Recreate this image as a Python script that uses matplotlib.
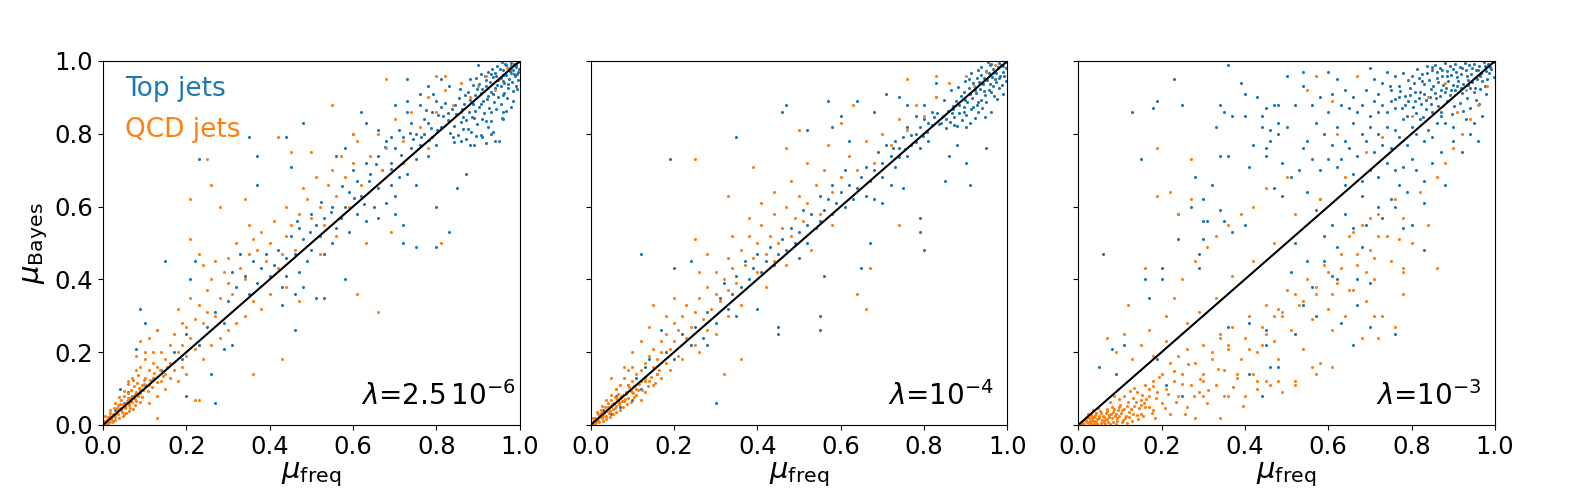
import numpy as np
import matplotlib
matplotlib.use('Agg')
import matplotlib.pyplot as plt

# values, in hundredths: (mu_freq, mu_Bayes)
# panel 1, lambda = 2.5e-6
top_1_core = [
    (99.6, 99.8), (98.7, 99.2), (97.9, 99.5), (96.8, 98.9), (99.1, 98.4), (95.7, 99.6), (97.3, 98.1),
    (98.4, 97.6), (99.8, 97.9), (94.6, 98.7), (96.1, 97.4), (95.2, 97.9), (97.8, 96.8), (99.3, 96.5),
    (94.1, 96.6), (93.3, 97.8), (98.9, 95.9), (96.7, 96.2), (92.4, 97.1), (95.6, 95.3), (97.5, 95.1),
    (94.8, 94.7), (93.6, 95.6), (91.7, 95.8), (99.5, 94.8), (98.2, 94.2), (96.3, 94.0), (92.9, 94.3),
    (90.8, 96.4), (89.6, 95.2), (95.4, 93.2), (97.1, 92.7), (94.0, 92.5), (91.9, 93.1), (90.3, 93.8),
    (99.0, 93.0), (93.2, 91.6), (88.7, 93.4), (96.2, 91.3), (98.4, 91.8), (92.5, 90.4), (94.7, 90.2),
    (90.6, 91.2), (89.2, 90.7), (87.6, 91.6), (96.9, 89.8), (91.3, 89.1), (93.8, 88.7), (88.1, 89.3),
    (95.5, 88.2), (90.2, 87.5), (92.6, 87.1), (86.7, 88.3), (89.3, 86.4), (94.3, 86.8), (97.8, 87.3),
    (85.4, 89.7), (87.9, 86.0), (91.4, 85.6), (86.1, 86.9), (88.6, 84.7), (90.9, 84.1), (93.1, 83.6),
    (84.8, 85.4), (87.2, 83.9), (85.9, 83.2), (95.8, 84.3), (89.8, 82.7), (83.7, 86.8), (92.3, 81.9),
    (86.4, 81.4), (84.2, 82.1), (88.3, 80.6), (90.7, 79.8), (82.8, 83.8), (85.1, 79.7), (81.6, 84.9),
    (87.0, 78.5), (93.5, 80.4), (83.3, 80.2),
]
top_1_extra = [
    (99.2, 99.0), (98.0, 98.6), (96.4, 99.2), (99.7, 96.9), (97.6, 97.3), (96.0, 96.1), (94.4, 95.8),
    (98.6, 96.3), (93.0, 96.3), (95.9, 94.4), (97.3, 93.6), (99.4, 92.2), (92.0, 94.7), (94.5, 93.4),
    (91.0, 92.4), (93.5, 90.9), (95.9, 90.6), (89.8, 92.4), (92.1, 89.5), (90.7, 88.3), (88.9, 88.1),
    (86.8, 90.6), (93.1, 86.0), (96.7, 86.3), (91.9, 83.4), (89.1, 84.4), (86.5, 84.6), (98.5, 89.0),
    (84.4, 87.9), (88.0, 95.1), (90.0, 99.0), (85.7, 92.2), (82.9, 85.8), (81.0, 87.5), (87.7, 81.2),
    (89.4, 79.3), (84.3, 77.8), (91.8, 77.6), (80.2, 81.1), (78.3, 78.4),
]
top_1_rest = [
    (83, 93), (80, 89), (79, 86), (81, 82), (79, 79), (80, 77), (78, 83), (77, 80), (78, 74), (76, 77),
    (75, 80), (74, 83), (73, 86), (76, 88), (77, 84), (75, 73), (74, 76), (72, 79), (71, 81), (70, 76),
    (72, 72), (73, 69), (75, 66), (71, 68), (69, 72), (68, 78), (66, 74), (67, 70), (69, 66), (70, 63),
    (68, 61), (66, 65), (64, 69), (63, 72), (65, 60), (62, 63), (61, 67), (60, 70), (59, 64), (61, 58),
    (63, 56), (66, 57), (70, 58), (72, 55), (58, 60), (57, 57), (59, 53), (56, 54), (55, 60), (53, 57),
    (55, 50), (52, 52), (51, 55), (50, 58), (53, 47), (50, 48), (48, 51), (47, 54), (49, 45), (46, 47),
    (45, 52), (44, 46), (47, 42), (44, 41), (42, 48), (41, 44), (43, 38), (46, 36), (40, 41), (39, 47),
    (38, 43), (37, 39), (36, 45), (34, 41), (33, 47), (35, 36), (32, 38), (30, 34), (31, 42), (29, 28),
    (27, 31), (25, 27), (23, 22), (20, 25), (19, 18), (17, 20), (14, 15), (12, 13), (10, 11), (7, 8),
    (5, 6), (3, 4), (2, 2), (4, 10), (6, 9), (96, 84), (95, 78), (88, 77), (86, 78), (84, 79), (93, 80),
    (91, 79), (80.5, 85.3), (78.6, 81.7), (76.2, 79.1), (74.4, 78.5), (82.1, 88.4), (79.3, 91.0),
    (77.5, 86.6), (73.6, 80.2), (71.4, 74.3), (69.0, 70.4), (67.7, 76.3), (65.4, 71.6), (63.8, 66.9),
    (62.6, 60.8), (60.2, 62.5), (57.4, 65.6), (54.7, 58.4), (52.3, 61.2), (49.6, 53.0), (46.5, 56.1),
    (23, 73), (35, 79), (37, 74), (37, 66), (44, 79), (48, 83), (45, 71), (15, 45), (22, 45), (21, 40),
    (9, 32), (10, 28), (13, 26), (8, 21), (27, 6), (20, 8), (29, 21), (31, 22), (26, 14), (46, 26),
    (43, 33), (51, 35), (53, 35), (58, 40), (48, 38), (80, 49), (83, 53), (80, 60), (75, 49), (72, 50),
    (85, 65), (87, 69), (89, 77), (94, 78), (96, 86), (66, 81), (56, 74), (69, 79), (73, 89), (73, 95),
    (63, 83), (60, 80), (58, 76), (62, 86), (70, 88), (78, 93), (81, 95), (76, 91),
]
qcd_1_core = [
    (0.4, 0.6), (0.9, 1.3), (1.5, 0.8), (1.2, 2.1), (2.0, 1.7), (2.4, 2.9), (1.8, 3.4), (2.9, 2.2),
    (3.3, 3.8), (2.6, 4.6), (3.7, 2.9), (4.1, 4.7), (3.5, 5.5), (4.6, 3.6), (4.9, 5.9), (4.3, 6.8),
    (5.4, 4.8), (5.7, 6.7), (5.1, 7.9), (6.2, 5.6), (6.5, 7.3), (6.0, 8.8), (6.9, 6.4), (7.2, 8.1),
    (6.7, 9.7), (7.6, 7.2), (7.9, 9.2), (7.4, 10.6), (8.3, 8.0), (8.6, 10.1), (8.1, 11.5), (9.0, 8.9),
    (9.3, 11.0), (9.7, 9.6), (9.9, 12.3), (10.4, 10.7), (1.1, 0.3), (2.2, 0.9), (3.0, 1.4), (3.9, 1.9),
    (4.7, 2.6), (5.5, 3.2), (6.3, 3.9), (7.1, 4.5), (7.8, 5.4), (8.8, 6.3), (0.6, 2.4), (1.6, 4.1),
    (2.8, 6.1), (3.9, 7.7), (5.0, 9.4), (6.1, 11.2), (7.3, 12.4), (8.4, 13.6),
    (0.2, 1.0), (1.0, 0.6), (1.7, 2.6), (2.3, 1.2), (3.0, 3.0), (3.3, 4.7), (4.4, 4.0), (4.0, 5.8),
    (5.2, 5.3), (5.0, 3.0), (5.9, 7.4), (6.3, 6.0), (6.6, 4.6), (7.0, 7.7), (7.7, 8.6), (8.0, 6.7),
    (8.9, 9.6), (9.4, 7.8), (9.8, 11.4), (10.8, 9.3), (11.2, 12.5), (11.7, 10.4), (12.3, 14.3),
    (12.9, 11.7), (13.6, 15.1), (14.3, 13.5), (15.4, 16.0), (16.1, 12.9),
]
qcd_1_rest = [
    (10, 13), (11, 11), (7, 13), (6, 12), (8, 15), (9, 16), (10, 18), (11, 15), (12, 13), (12, 17),
    (13, 16), (14, 12), (14, 20), (15, 14), (15, 18), (16, 22), (12, 20), (11, 24), (13, 26), (10, 20),
    (8, 19), (9, 23), (16, 17), (17, 15), (18, 20), (17, 25), (19, 22), (20, 19), (19, 28), (18, 32),
    (20, 27), (21, 24), (22, 21), (22, 29), (23, 33), (21, 35), (24, 28), (25, 31), (25, 37), (27, 30),
    (28, 35), (26, 40), (24, 44), (23, 47), (27, 45), (29, 42), (30, 39), (31, 36), (30, 46), (32, 50),
    (33, 43), (34, 40), (35, 47), (35, 55), (36, 51), (37, 48), (38, 53), (39, 45), (40, 50), (41, 56),
    (42, 43), (43, 47), (44, 52), (44, 60), (45, 55), (46, 48), (47, 58), (48, 65), (49, 62), (50, 57),
    (51, 68), (52, 60), (53, 55), (54, 66), (55, 70), (56, 63), (57, 74), (58, 68), (59, 60), (60, 72),
    (61, 78), (62, 66), (64, 74), (66, 80), (67, 70), (68, 76), (70, 84), (72, 78), (74, 86), (76, 82),
    (78, 90), (80, 86), (82, 92), (84, 88), (86, 94), (88, 90), (90, 93), (92, 96), (95, 95), (97, 98),
    (94, 92), (86, 86), (78, 76), (72, 72), (44, 38), (40, 36), (47, 34), (38, 32), (34, 30), (30, 26),
    (26, 22), (24, 18), (20, 14), (18, 12), (15, 10), (13, 8), (11, 6), (16, 13), (19, 16), (28, 24),
    (32, 28), (36, 34), (52, 47), (56, 52),
    (26, 66), (25, 73), (21, 62), (21, 51), (28, 60), (34, 62), (42, 79), (45, 75), (50, 75), (55, 88),
    (60, 80), (68, 95), (80, 96), (82, 96), (66, 31), (61, 36), (81, 50), (69, 53), (63, 50), (43, 18),
    (36, 14), (23, 7), (13, 2), (22, 7),
]

# panel 2, lambda = 1e-4
top_2_core = [
    (99.4, 99.7), (98.6, 99.0), (97.7, 98.4), (99.8, 98.2), (96.5, 97.9), (98.9, 97.1), (95.8, 98.8),
    (97.2, 96.6), (99.2, 96.0), (94.9, 97.3), (96.3, 95.7), (98.1, 95.4), (93.8, 96.1), (95.1, 94.8),
    (97.4, 94.3), (92.7, 95.4), (94.2, 93.6), (96.6, 93.1), (91.8, 93.9), (93.4, 92.4), (95.7, 92.0),
    (90.9, 92.6), (92.5, 91.1), (94.6, 90.7), (89.7, 91.5), (91.6, 89.9), (93.7, 89.3), (88.8, 90.3),
    (90.4, 88.6), (92.8, 87.9), (87.6, 89.1), (89.5, 87.4), (91.2, 86.7), (86.9, 87.6), (88.4, 85.8),
    (90.1, 85.2), (85.7, 86.3), (87.3, 84.6), (89.2, 83.9), (84.6, 84.9), (86.2, 83.3), (99.6, 94.5),
    (98.0, 92.6), (96.8, 90.5), (95.0, 88.8), (97.6, 89.6), (93.0, 86.0), (94.6, 84.7), (91.0, 83.0),
    (88.0, 82.1), (85.3, 81.6), (83.7, 82.8), (82.4, 84.6), (96.1, 99.3), (93.6, 98.4), (91.3, 96.8),
    (89.9, 94.4), (88.1, 92.8), (86.4, 91.9), (84.9, 89.2),
]
top_2_extra = [
    (99.0, 98.7), (97.9, 99.4), (98.3, 96.0), (96.9, 97.1), (95.5, 96.6), (97.0, 95.1), (94.3, 95.4),
    (95.8, 93.6), (93.1, 94.2), (92.2, 92.1), (94.4, 91.7), (91.0, 90.8), (93.0, 88.6), (89.8, 89.4),
    (88.3, 87.9), (91.7, 87.4), (86.8, 85.6), (89.6, 85.9), (87.0, 86.7), (85.2, 84.2), (83.1, 85.6),
    (84.2, 83.0), (82.0, 82.3), (80.8, 80.4), (79.8, 79.3), (78.2, 77.8), (77.0, 79.7), (75.5, 75.9),
    (74.0, 73.6), (72.5, 76.1), (98.8, 93.3), (96.1, 91.6), (94.0, 87.2), (92.3, 84.3), (90.2, 81.8),
    (87.2, 82.4), (99.9, 100.0), (95.3, 99.6), (92.9, 97.5), (90.8, 95.1),
]
top_2_rest = [
    (79, 82), (78, 85), (78, 80), (77, 77), (79, 76), (81, 78), (76, 82), (75, 79), (74, 76), (76, 74),
    (73, 78), (72, 74), (71, 77), (73, 71), (70, 72), (69, 75), (68, 70), (70, 68), (72, 66), (67, 67),
    (66, 71), (65, 68), (64, 65), (66, 63), (68, 62), (63, 62), (62, 66), (61, 70), (60, 64), (61, 60),
    (59, 61), (58, 66), (57, 62), (58, 58), (56, 59), (55, 63), (55, 56), (53, 58), (54, 54), (52, 55),
    (51, 59), (50, 53), (52, 50), (49, 50), (48, 54), (47, 48), (50, 46), (46, 51), (45, 47), (44, 44),
    (43, 49), (42, 45), (41, 42), (40, 47), (39, 43), (38, 40), (37, 45), (36, 38), (35, 41), (34, 36),
    (33, 32), (32, 39), (31, 35), (30, 28), (28, 31), (27, 24), (25, 27), (24, 22), (22, 25), (20, 18),
    (18, 20), (16, 14), (14, 18), (12, 10), (11, 13), (9, 11), (7, 5), (6, 8), (5, 3), (3, 4), (17, 26),
    (13, 16), (10, 7), (80, 84), (80, 88), (82, 86), (81, 83), (83, 90),
    (19, 73), (12, 47), (20, 43), (24, 45), (35, 79), (30, 6), (47, 88), (46, 86), (52, 81), (57, 89),
    (60, 85), (55, 30), (55, 26), (45, 27), (45, 25), (79, 53), (80, 48), (79, 57), (91, 66), (71, 91),
    (64, 89), (56, 41), (65, 43), (67, 50), (85, 67), (95, 76), (96, 86), (99, 91), (28, 22), (35, 30),
    (40, 32), (62, 78), (58, 82), (68, 86), (74, 90), (76, 88), (83, 94), (70, 61), (75, 65), (86, 74),
    (88, 77), (90, 72),
]
qcd_2_core = [
    (0.3, 0.4), (0.8, 1.1), (1.4, 0.7), (1.1, 1.9), (1.9, 1.5), (2.3, 2.6), (1.7, 3.0), (2.8, 2.0),
    (3.2, 3.4), (2.5, 4.0), (3.6, 2.6), (4.0, 4.2), (3.4, 4.9), (4.5, 3.3), (4.8, 5.2), (4.2, 6.0),
    (5.3, 4.4), (5.6, 6.0), (5.0, 7.0), (6.1, 5.1), (6.4, 6.6), (5.9, 7.8), (6.8, 5.9), (7.1, 7.3),
    (6.6, 8.6), (7.5, 6.6), (7.8, 8.2), (8.2, 7.2), (8.5, 9.1), (1.0, 0.2), (2.1, 0.8), (2.9, 1.2),
    (3.8, 1.7), (4.6, 2.3), (5.4, 2.9), (6.2, 3.5), (7.0, 4.1), (7.7, 4.9), (8.7, 5.7), (9.6, 6.4),
    (10.5, 7.6), (0.5, 1.9), (1.5, 3.5), (2.7, 5.3), (3.8, 6.8), (4.9, 8.3), (6.0, 9.8), (9.2, 10.4),
    (10.1, 8.9), (11.3, 9.6),
    (0.6, 0.7), (1.3, 1.3), (2.0, 2.2), (2.6, 3.3), (3.0, 2.5), (3.7, 3.8), (4.3, 4.9), (4.7, 3.9),
    (5.2, 5.8), (5.8, 4.8), (6.3, 7.1), (6.9, 6.4), (7.4, 7.9), (8.0, 6.5), (8.6, 8.4), (9.1, 7.5),
    (9.8, 9.3), (10.4, 10.8), (11.0, 8.3), (11.7, 11.4), (12.4, 9.7), (13.1, 12.2), (13.8, 10.6),
    (14.6, 13.1), (15.4, 11.5), (16.3, 15.2),
]
qcd_2_rest = [
    (9, 11), (10, 9), (10, 12), (11, 10), (11, 14), (12, 12), (6, 10), (7, 11), (8, 13), (9, 15),
    (10, 16), (12, 15), (13, 13), (13, 17), (14, 12), (14, 19), (15, 16), (15, 21), (16, 18), (16, 14),
    (17, 23), (17, 20), (18, 17), (18, 25), (19, 21), (20, 23), (20, 28), (21, 19), (21, 26), (22, 30),
    (23, 24), (23, 33), (24, 27), (25, 31), (25, 22), (26, 35), (27, 29), (28, 38), (28, 26), (29, 32),
    (30, 36), (30, 42), (31, 34), (32, 40), (33, 37), (33, 46), (34, 43), (35, 39), (36, 48), (37, 44),
    (38, 52), (39, 46), (40, 50), (40, 42), (41, 55), (42, 47), (43, 52), (44, 45), (44, 58), (45, 50),
    (46, 54), (47, 60), (48, 52), (49, 57), (50, 63), (51, 56), (52, 61), (54, 66), (55, 58), (56, 70),
    (58, 64), (60, 68), (62, 74), (64, 70), (66, 78), (68, 72), (70, 80), (72, 77), (74, 84), (76, 81),
    (78, 88), (80, 85), (83, 90), (86, 94), (90, 96), (92, 93), (95, 97), (97, 99), (13, 9), (15, 11),
    (17, 13), (19, 15), (22, 18), (26, 20), (30, 25), (33, 30), (36, 33), (42, 38), (47, 44), (53, 48),
    (58, 55), (12, 7),
    (25, 73), (39, 71), (47, 76), (50, 81), (63, 88), (60, 83), (25, 51), (33, 63), (41, 61), (66, 32),
    (64, 36), (67, 43), (74, 55), (76, 95), (83, 96), (36, 18), (32, 14), (15, 33), (14, 27), (5, 13),
    (8, 16), (10, 20), (12, 23), (18, 30), (20, 35), (26, 42), (28, 47), (34, 52), (38, 57), (44, 64),
    (48, 67), (52, 72), (57, 77),
]

# panel 3, lambda = 1e-3
top_3_core = [
    (99.5, 99.6), (98.4, 99.1), (97.3, 99.7), (96.2, 98.6), (95.0, 99.3), (93.8, 98.9), (92.7, 99.5),
    (91.5, 98.4), (90.3, 99.2), (89.1, 98.7), (87.9, 99.4), (86.8, 98.1), (85.6, 99.0), (99.0, 97.8),
    (97.8, 97.2), (96.6, 96.7), (95.4, 97.5), (94.3, 96.3), (93.1, 97.4), (91.9, 96.5), (90.7, 97.1),
    (89.5, 96.2), (88.4, 97.3), (87.2, 96.0), (86.0, 96.9), (84.8, 97.6), (83.7, 98.5), (82.5, 96.4),
    (99.7, 95.6), (98.2, 95.0), (97.0, 94.4), (95.8, 95.1), (94.6, 94.2), (93.5, 94.9), (92.3, 93.8),
    (91.1, 94.6), (89.9, 93.5), (88.8, 94.4), (87.6, 93.3), (86.4, 94.1), (85.2, 93.0), (84.1, 94.7),
    (82.9, 93.6), (81.7, 95.3), (80.6, 94.0), (96.4, 92.3), (94.9, 91.6), (93.9, 92.6), (92.0, 91.2),
    (90.4, 91.9), (89.2, 90.7), (87.9, 91.4), (86.7, 90.3), (85.5, 91.2), (84.3, 90.1), (83.1, 91.0),
    (81.9, 89.8), (80.8, 91.6), (79.6, 92.7), (78.4, 90.4), (95.5, 89.4), (93.2, 89.8), (91.6, 88.5),
    (90.1, 87.7), (88.5, 88.9), (86.3, 87.6), (84.7, 88.3), (83.4, 86.9), (82.2, 88.2), (80.4, 87.5),
    (79.2, 88.9), (77.7, 87.1), (94.1, 87.0), (92.4, 86.2), (89.6, 85.4), (87.1, 84.8), (85.0, 85.9),
    (82.7, 84.6), (81.1, 85.7), (78.9, 84.9),
]
top_3_extra = [
    (98.9, 98.3), (97.6, 98.6), (96.0, 97.6), (94.6, 98.2), (93.4, 96.0), (92.1, 98.0), (90.9, 95.6),
    (89.9, 97.9), (88.6, 95.9), (87.4, 97.5), (86.2, 95.3), (85.0, 98.3), (83.8, 96.7), (82.6, 94.4),
    (81.4, 97.9), (80.2, 96.0), (79.1, 94.9), (77.9, 96.6), (97.5, 93.2), (96.3, 95.9), (95.1, 92.7),
    (93.6, 93.3), (91.9, 92.5), (90.8, 93.2), (89.4, 91.9), (88.2, 92.7), (87.0, 92.1), (85.8, 89.7),
    (84.6, 92.3), (83.5, 89.3), (82.1, 91.5), (80.9, 89.0), (79.7, 90.6), (78.5, 88.0), (77.3, 91.8),
    (76.1, 89.6), (74.9, 93.1), (98.6, 96.6), (97.9, 91.0), (96.2, 88.3),
]
top_3_rest = [
    (77, 93), (76, 96), (75, 92), (74, 97), (73, 94), (72, 91), (71, 95), (70, 98), (69, 92), (77, 90),
    (76, 87), (75, 89), (74, 86), (73, 88), (72, 86), (71, 89), (70, 85), (68, 88), (67, 86), (66, 90),
    (65, 87), (64, 92), (63, 88), (62, 95), (61, 91), (60, 97),
    (87, 86), (88, 83), (90, 82), (93, 84), (95, 83), (97, 85), (86, 83), (84, 81), (82, 84), (80, 82),
    (78, 84), (76, 81), (74, 82), (72, 80), (70, 82), (68, 80), (66, 83), (64, 78), (62, 82), (60, 86),
    (58, 90), (56, 88), (85, 79), (83, 78), (81, 80), (79, 77), (77, 79), (75, 76), (73, 77), (71, 75),
    (69, 78), (67, 74), (65, 76), (63, 73), (61, 77), (59, 80), (57, 83), (55, 78), (54, 93), (52, 88),
    (80, 73), (78, 71), (76, 70), (74, 72), (72, 68), (70, 70), (68, 67), (66, 69), (64, 66), (62, 71),
    (60, 73), (58, 70), (56, 73), (54, 76), (53, 70), (51, 68), (49, 72), (48, 80), (50, 82), (46, 78),
    (45, 74), (44, 82), (42, 77), (40, 85), (47, 88), (43, 90),
    (13, 86), (18, 87), (19, 89), (23, 95), (36, 99), (25, 88), (15, 73), (6, 47), (39, 94), (40, 91),
    (34, 88), (35, 86), (33, 82), (37, 85), (44, 85), (45, 87), (48, 88), (50, 96), (54, 97), (45, 76),
    (48, 83), (46, 81), (34, 74), (36, 74), (28, 68), (32, 66), (41, 71), (47, 65), (49, 63), (30, 62),
    (27, 60), (34, 59), (35, 56), (30, 56), (31, 56), (24, 51), (24, 58), (40, 55), (37, 53), (30, 51),
    (29, 47), (29, 43), (20, 43), (20, 40), (16, 40), (17, 35), (19, 18), (11, 22), (8, 21), (9, 14),
    (5, 16), (21, 11), (25, 8), (44, 8), (46, 16), (48, 16), (45, 22), (41, 14), (36, 27), (41, 28),
    (45, 26), (52, 25), (54, 33), (57, 30), (63, 28), (66, 22), (70, 27), (76, 25), (67, 33), (70, 39),
    (67, 40), (83, 48), (88, 66), (83, 61), (80, 55), (78, 54), (72, 60), (76, 60), (69, 55), (66, 54),
    (68, 49), (61, 55), (59, 52), (62, 49), (59, 45), (61, 41), (62, 40), (55, 45), (52, 50), (51, 42),
    (56, 38), (58, 62), (55, 64), (57, 59), (64, 58), (68, 63), (73, 57), (75, 62), (77, 66), (79, 64),
    (81, 70), (83, 67), (85, 72), (87, 75), (90, 78), (92, 75), (94, 80), (96, 78),
]
qcd_3_core = [
    (0.4, 0.3), (0.9, 0.8), (1.5, 0.4), (1.3, 1.4), (2.1, 0.9), (2.6, 1.8), (2.0, 2.3), (3.1, 0.6),
    (3.4, 1.5), (3.0, 2.8), (3.9, 2.2), (4.3, 0.8), (4.6, 1.7), (4.2, 3.3), (5.1, 2.6), (5.4, 0.5),
    (5.7, 1.4), (5.3, 3.9), (6.2, 2.1), (6.6, 3.2), (6.1, 0.9), (7.0, 1.6), (7.3, 2.7), (6.9, 4.4),
    (7.7, 0.4), (8.1, 1.9), (8.4, 3.5), (8.0, 5.0), (8.8, 2.6), (9.2, 1.1), (9.5, 4.1), (9.0, 0.3),
    (9.9, 2.4), (10.3, 3.3), (10.1, 5.6), (10.7, 1.5), (11.1, 4.4), (11.5, 2.6), (11.9, 6.2),
    (12.3, 3.6), (12.8, 1.2), (13.4, 5.1), (14.0, 2.8), (13.1, 7.4), (14.6, 4.6), (15.2, 8.3),
    (4.8, 4.7), (3.6, 4.1), (2.4, 3.1), (7.6, 6.3), (9.7, 7.2), (12.5, 9.4), (10.9, 8.1), (8.6, 7.9),
    (1.8, 1.1), (3.7, 0.2), (6.4, 0.2), (11.8, 0.6),
    (0.7, 0.6), (1.2, 0.2), (1.9, 1.5), (2.3, 0.5), (2.8, 1.2), (3.2, 2.1), (3.8, 1.0), (4.1, 2.7),
    (4.5, 0.3), (4.9, 1.9), (5.5, 3.3), (5.9, 2.5), (6.4, 1.5), (6.8, 3.9), (7.2, 0.9), (7.5, 2.2),
    (7.9, 3.1), (8.3, 0.8), (8.7, 4.4), (9.1, 2.9), (9.4, 1.8), (9.8, 5.0), (10.4, 0.7), (10.6, 4.0),
    (11.3, 1.9), (11.7, 5.3), (12.1, 2.2), (12.7, 4.5), (13.2, 3.1), (13.8, 6.3), (14.3, 1.6),
    (15.0, 5.6), (15.6, 2.5), (16.3, 7.2), (17.0, 4.9), (17.9, 10.6), (18.5, 1.8),
]
qcd_3_rest = [
    (14, 9), (15, 3), (15, 7), (16, 5), (16, 11), (17, 8), (18, 4), (18, 12), (19, 9), (20, 6), (20, 14),
    (21, 10), (22, 3), (22, 17), (23, 12), (24, 8), (24, 19), (25, 14), (26, 5), (26, 21), (27, 11),
    (28, 17), (28, 2), (29, 9), (30, 14), (30, 22), (31, 6), (32, 18), (33, 11), (34, 2), (34, 24),
    (35, 15), (36, 8), (36, 21), (37, 27), (38, 13), (39, 18), (40, 8), (40, 24), (41, 30), (42, 14),
    (43, 20), (44, 27), (45, 33), (46, 11), (47, 23), (48, 18), (49, 30), (50, 37), (51, 26), (52, 12),
    (53, 33), (54, 21), (55, 40), (56, 29), (57, 36), (58, 17), (59, 44), (60, 32), (61, 26), (62, 39),
    (63, 47), (64, 30), (65, 52), (66, 37), (67, 44), (68, 55), (69, 34), (70, 48), (71, 40), (72, 58),
    (73, 30), (74, 52), (75, 45), (76, 62), (78, 42), (78, 57), (80, 50), (82, 64), (84, 55), (86, 68),
    (88, 72), (90, 76), (92, 80), (94, 84), (96, 88), (98, 93),
    (61, 16), (56, 16), (57, 14), (52, 11), (49, 9), (48, 12), (45, 12), (43, 12), (38, 14), (35, 8),
    (30, 8), (30, 12), (32, 20), (34, 25), (36, 22), (41, 21), (44, 22), (45, 25), (47, 30), (49, 31),
    (48, 32), (52, 36), (54, 34), (57, 38), (60, 42), (63, 43), (65, 37), (69, 42), (71, 30), (72, 24),
    (76, 27), (78, 36), (78, 43), (86, 43), (68, 24), (61, 36), (66, 53), (67, 47), (71, 46), (72, 52),
    (70, 57), (77, 51), (19, 76), (19, 63), (22, 64), (27, 73), (27, 62), (24, 58), (16, 43), (12, 33),
    (11, 25), (7, 24), (9, 20), (13, 18), (15, 22), (17, 26), (21, 30), (23, 35), (25, 40), (28, 45),
    (31, 49), (33, 52), (36, 55), (39, 58), (42, 60), (45, 65), (50, 68), (55, 92), (57, 96), (67, 96),
    (61, 89), (62, 80), (69, 75), (73, 79), (80, 85), (84, 90), (88, 94), (91, 86), (93, 92), (64, 68),
    (58, 62), (52, 58), (47, 50), (42, 45), (37, 41), (33, 35), (29, 31), (26, 28), (21, 23), (18, 19),
    (13.5, 10.2), (15.8, 6.1), (16.9, 9.8), (17.6, 3.4), (18.7, 7.3), (19.4, 13.2), (20.8, 4.7),
    (21.6, 8.6), (22.9, 14.8), (23.5, 6.4), (24.8, 11.3), (25.7, 3.1), (26.4, 16.7), (27.9, 7.9),
    (29.3, 12.6), (31.2, 9.7), (33.6, 15.4), (37.1, 10.5), (39.6, 5.2), (42.8, 9.9),
]

lambdas = [r'$\lambda$=2.5$\,10^{-6}$', r'$\lambda$=$10^{-4}$', r'$\lambda$=$10^{-3}$']
lambda_x = [0.99, 0.968, 0.967]
ticks = [0.0, 0.2, 0.4, 0.6, 0.8, 1.0]
diag = [0, 1]

panels = [
    (top_1_core + top_1_extra + top_1_rest, qcd_1_core + qcd_1_rest),
    (top_2_core + top_2_extra + top_2_rest, qcd_2_core + qcd_2_rest),
    (top_3_core + top_3_extra + top_3_rest, qcd_3_core + qcd_3_rest),
]

fig, axes = plt.subplots(1, 3, figsize=(15.89, 5), sharey=True)
plt.subplots_adjust(left=0.0648, right=0.9408, bottom=0.15, top=0.878, wspace=0.17)

for i, ax in enumerate(axes):
    top = np.array(panels[i][0]) / 100
    qcd = np.array(panels[i][1]) / 100
    ax.scatter(top[:, 0], top[:, 1], s=5, lw=0, color='#1f77b4')
    ax.scatter(qcd[:, 0], qcd[:, 1], s=5, lw=0, color='#ff7f0e')
    ax.plot(diag, diag, color='black', lw=1.5)
    ax.set_xlim(0, 1)
    ax.set_ylim(0, 1)
    ax.set_xticks(ticks)
    ax.set_yticks(ticks)
    ax.tick_params(labelsize=17.5)
    ax.set_xlabel(r'$\mu_\mathrm{freq}$', fontsize=21, labelpad=1)
    ax.text(lambda_x[i], 0.055, lambdas[i], transform=ax.transAxes,
            ha='right', va='baseline', fontsize=20)

axes[0].set_ylabel(r'$\mu_\mathrm{Bayes}$', fontsize=21, labelpad=3)
axes[0].text(0.054, 0.904, 'Top jets', color='#1f77b4', fontsize=19,
             transform=axes[0].transAxes, va='baseline')
axes[0].text(0.054, 0.792, 'QCD jets', color='#ff7f0e', fontsize=19,
             transform=axes[0].transAxes, va='baseline')

plt.savefig('out.png', dpi=100)
